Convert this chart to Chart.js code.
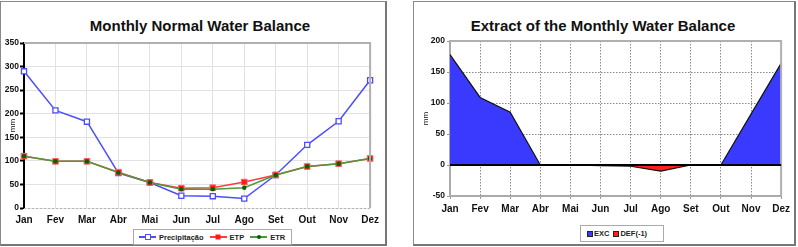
<!DOCTYPE html>
<html>
<head>
<meta charset="utf-8">
<script src="https://cdn.jsdelivr.net/npm/chart.js@4.4.1/dist/chart.umd.min.js"></script>
<style>
  html, body { margin: 0; padding: 0; background: #fff; }
  body { width: 798px; height: 247px; position: relative; overflow: hidden;
         font-family: "Liberation Sans", Arial, sans-serif; }
  .panel { position: absolute; top: 1px; height: 242px; border: 1px solid #8a8a8a;
           border-right: 2px solid #777; border-bottom: 2px solid #777; box-sizing: content-box; }
  .ttl { position: absolute; top: 15px; font-weight: bold; color: #111; white-space: nowrap;
         transform: translateX(-50%); }
  canvas { position: absolute; left: 0; top: 0; }
  .lg { position: absolute; border: 1px solid #aaa; background: #fff; font-weight: bold;
        font-size: 7.5px; color: #222; display: flex; align-items: center; white-space: nowrap; }
  .lg .it { display: flex; align-items: center; margin-right: 6px; }
  .ln { position: relative; width: 17px; height: 2px; margin-right: 3px; }
  .ln i { position: absolute; left: 50%; top: 50%; transform: translate(-50%,-50%); }
  .sq { width: 4px; height: 4px; margin-right: 1px; border: 1px solid #222; }
</style>
</head>
<body>
<div class="panel" id="p1" style="left:0;width:384px">
  <div class="ttl" style="left:199px;font-size:15px">Monthly Normal Water Balance</div>
  <canvas id="c1" width="384" height="242"></canvas>
  <div class="lg" style="left:132px;top:227px;width:152px;height:14px;padding-left:5px">
    <span class="it"><span class="ln" style="background:#4d4dff"><i style="width:4px;height:4px;background:#fff;border:1px solid #4d4dff"></i></span>Precipitação</span>
    <span class="it"><span class="ln" style="background:#ff3c3c"><i style="width:5px;height:5px;background:#ff1a1a"></i></span>ETP</span>
    <span class="it"><span class="ln" style="background:#4c9a3c"><i style="width:4px;height:4px;border-radius:50%;background:#006400"></i></span>ETR</span>
  </div>
</div>
<div class="panel" id="p2" style="left:413px;width:380px">
  <div class="ttl" style="left:189px;font-size:15px">Extract of the Monthly Water Balance</div>
  <canvas id="c2" width="380" height="242"></canvas>
  <div class="lg" style="left:166px;top:223px;width:76px;height:15px;padding-left:6px">
    <span class="it" style="margin-right:4px"><span class="sq" style="background:#3a3aff"></span>EXC</span>
    <span class="it"><span class="sq" style="background:#ff2020"></span>DEF(-1)</span>
  </div>
</div>
<script>
const months = ["Jan","Fev","Mar","Abr","Mai","Jun","Jul","Ago","Set","Out","Nov","Dez"];
const precipitacao = [290, 207, 183, 74, 54, 26, 25, 20, 70, 134, 184, 271];
const etp = [110, 99, 99, 76, 54, 42, 43, 55, 70, 88, 94, 105];
const etr = [110, 99, 99, 75, 54, 40, 40, 43, 70, 88, 94, 105];
const exc = [178, 109, 85, 0, 0, 0, 0, 0, 0, 0, 82, 164];
const def = [0, 0, 0, 0, 0, -1, -2, -10, 0, 0, 0, 0];

Chart.defaults.font.family = '"Liberation Sans", Arial, sans-serif';
Chart.defaults.font.weight = "bold";
Chart.defaults.color = "#111";
Chart.defaults.animation = false;

// grey frame round the plot area, plus optional zero line / dashed base
const plotFrame = {
  id: "plotFrame",
  afterDatasetsDraw(chart, args, opts) {
    const a = chart.chartArea;
    const ctx = chart.ctx;
    ctx.save();
    ctx.strokeStyle = opts.color || "#aaa";
    ctx.lineWidth = opts.width || 2;
    ctx.beginPath();
    ctx.moveTo(a.left, a.top);
    ctx.lineTo(a.right, a.top);
    ctx.lineTo(a.right, a.bottom);
    ctx.stroke();
    if (opts.dashedBase) {
      ctx.strokeStyle = "#b5b5b5";
      ctx.lineWidth = 1;
      ctx.setLineDash([2, 2]);
      ctx.beginPath();
      ctx.moveTo(a.left, a.bottom + 0.5);
      ctx.lineTo(a.right, a.bottom + 0.5);
      ctx.stroke();
      ctx.setLineDash([]);
    }
    if (opts.zero) {
      const y = chart.scales.y.getPixelForValue(0);
      ctx.strokeStyle = "#000";
      ctx.lineWidth = 2;
      ctx.beginPath();
      ctx.moveTo(a.left, y);
      ctx.lineTo(a.right, y);
      ctx.stroke();
    }
    ctx.restore();
  },
};

const fixW = (w) => (s) => { s.width = w; };
const fixH = (h) => (s) => { s.height = h; };

new Chart(document.getElementById("c1"), {
  type: "line",
  data: {
    labels: months,
    datasets: [
      {
        label: "Precipitação", data: precipitacao, order: 2,
        borderColor: "#4d4dff", borderWidth: 1.5,
        pointStyle: "rect", pointRadius: 3.6, pointBackgroundColor: "#fff",
        pointBorderColor: "#4d4dff", pointBorderWidth: 1.3,
      },
      {
        label: "ETP", data: etp, order: 1,
        borderColor: "#ff3c3c", borderWidth: 1.5,
        pointStyle: "rect", pointRadius: 4, pointBackgroundColor: "#ff1a1a",
        pointBorderColor: "#ff6060", pointBorderWidth: 1,
      },
      {
        label: "ETR", data: etr, order: 0,
        borderColor: "#4c9a3c", borderWidth: 1.5,
        pointStyle: "circle", pointRadius: 2.2, pointBackgroundColor: "#006400",
        pointBorderColor: "#006400", pointBorderWidth: 0,
      },
    ],
  },
  options: {
    responsive: false,
    layout: { padding: { left: 0, right: 13, top: 41, bottom: 13 } },
    plugins: { legend: { display: false }, tooltip: { enabled: false }, plotFrame: { color: "#b0b0b0", width: 2, dashedBase: true } },
    scales: {
      x: {
        afterFit: fixH(23),
        grid: { color: "#e2e2e2", lineWidth: 1, drawTicks: false },
        border: { display: false },
        ticks: { font: { size: 10 }, padding: 6, maxRotation: 0, autoSkip: false },
      },
      y: {
        min: 0, max: 350,
        afterFit: fixW(23),
        grid: { color: "#e2e2e2", lineWidth: 1, tickLength: 4, tickColor: "#000", tickWidth: 2 },
        border: { color: "#000", width: 2 },
        ticks: { stepSize: 50, font: { size: 8.5 }, padding: 1, color: "#111" },
        title: { display: true, text: "mm", font: { size: 8, weight: "normal" }, padding: { top: 7, bottom: 0 } },
      },
    },
  },
  plugins: [plotFrame],
});

new Chart(document.getElementById("c2"), {
  type: "line",
  data: {
    labels: months,
    datasets: [
      {
        label: "EXC", data: exc, fill: "origin",
        backgroundColor: "#3a3aff", borderColor: "#111", borderWidth: 1.2,
        pointRadius: 0, tension: 0,
      },
      {
        label: "DEF(-1)", data: def, fill: "origin",
        backgroundColor: "#ff2020", borderColor: "#111", borderWidth: 1.2,
        pointRadius: 0, tension: 0,
      },
    ],
  },
  options: {
    responsive: false,
    layout: { padding: { left: 0, right: 11, top: 39, bottom: 22 } },
    plugins: { legend: { display: false }, tooltip: { enabled: false }, plotFrame: { color: "#b0b0b0", width: 2, zero: true } },
    scales: {
      x: {
        afterFit: fixH(26),
        grid: { color: "#8a8a8a", lineWidth: 1, tickLength: 3, tickColor: "#999" },
        border: { color: "#aaa", width: 2, dash: [1.5, 1.5] },
        ticks: { font: { size: 10 }, padding: 4, maxRotation: 0, autoSkip: false },
      },
      y: {
        min: -50, max: 200,
        afterFit: fixW(36),
        grid: { color: "#8a8a8a", lineWidth: 1, tickLength: 3, tickColor: "#999" },
        border: { color: "#aaa", width: 2, dash: [1.5, 1.5] },
        ticks: { stepSize: 50, font: { size: 8.5 }, padding: 2 },
        title: { display: true, text: "mm", font: { size: 8, weight: "normal" }, padding: { top: 7, bottom: 0 } },
      },
    },
  },
  plugins: [plotFrame],
});
</script>
</body>
</html>
